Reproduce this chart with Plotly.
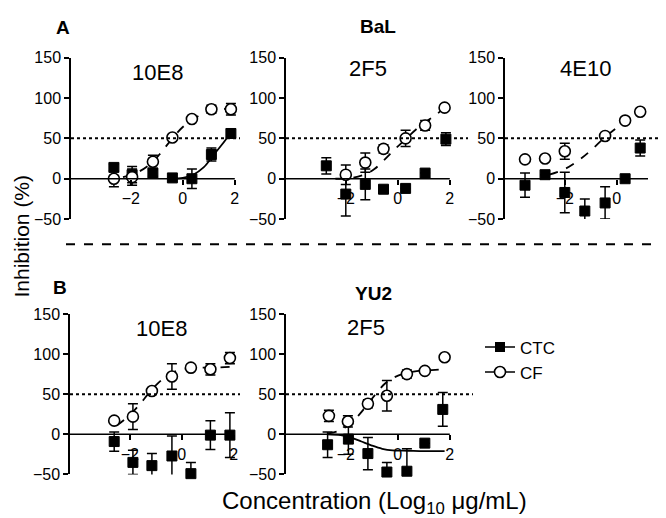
import plotly.graph_objects as go

W, H = 666, 518

# ---------------- data ----------------
# A / BaL / 10E8
bal_10e8_x = [-2.65, -1.95, -1.15, -0.4, 0.35, 1.1, 1.85]
bal_10e8_cf = [0, 2, 21, 51, 74, 86, 86]
bal_10e8_cf_err = [10, 10, 8, 0, 0, 5, 7]
bal_10e8_ctc = [14, 5, 7, 1, 0, 30, 56]
bal_10e8_ctc_err = [4, 10, 4, 0, 12, 8, 6]
bal_10e8_cf_fit_x = [-2.3, -1.8, -1.3, -0.9, -0.5, 0, 0.5, 1.0, 1.5, 1.85]
bal_10e8_cf_fit_y = [2, 7, 17, 30, 46, 64, 76, 83, 86, 87]
bal_10e8_ctc_fit_x = [-0.4, 0, 0.4, 0.8, 1.2, 1.5, 1.85]
bal_10e8_ctc_fit_y = [0, 1, 5, 14, 30, 42, 57]

# A / BaL / 2F5
bal_2f5_cf_x = [-2.0, -1.25, -0.55, 0.3, 1.05, 1.8]
bal_2f5_cf = [5, 20, 37, 50, 66, 88]
bal_2f5_cf_err = [12, 12, 5, 10, 6, 0]
bal_2f5_ctc_x = [-2.75, -2.0, -1.25, -0.55, 0.3, 1.05, 1.85]
bal_2f5_ctc = [16, -19, -7, -13, -12, 7, 49]
bal_2f5_ctc_err = [10, 27, 19, 0, 0, 0, 8]
bal_2f5_cf_fit_x = [-2.4, -1.8, -1.3, -0.9, -0.5, -0.1, 0.3, 0.7, 1.1, 1.5, 1.8]
bal_2f5_cf_fit_y = [0, 1, 5, 12, 24, 37, 49, 61, 71, 80, 88]

# A / BaL / 4E10
bal_4e10_cf_x = [-3.53, -2.76, -2.0, -0.45, 0.32, 0.9]
bal_4e10_cf = [24, 25, 34, 53, 72, 83]
bal_4e10_cf_err = [0, 0, 10, 0, 0, 0]
bal_4e10_ctc_x = [-3.53, -2.76, -2.0, -1.23, -0.45, 0.32, 0.9]
bal_4e10_ctc = [-8, 5, -17, -40, -30, 0, 38]
bal_4e10_ctc_err = [15, 0, 25, 15, 20, 0, 10]
bal_4e10_cf_fit_x = [-2.6, -2.0, -1.5, -1.0, -0.5, 0, 0.5, 0.9]
bal_4e10_cf_fit_y = [5, 12, 22, 35, 50, 63, 74, 80]

# B / YU2 / 10E8
yu2_10e8_x = [-2.6, -1.88, -1.15, -0.38, 0.35, 1.1, 1.85]
yu2_10e8_cf = [17, 22, 54, 72, 83, 81, 95]
yu2_10e8_cf_err = [0, 16, 0, 16, 3, 7, 7]
yu2_10e8_ctc = [-9, -35, -39, -27, -49, -1, -1]
yu2_10e8_ctc_err = [12, 15, 15, 25, 14, 18, 28]
yu2_10e8_cf_fit_x = [-2.5, -2.0, -1.6, -1.3, -1.0, -0.6, -0.2, 0.3, 0.8, 1.3, 1.85]
yu2_10e8_cf_fit_y = [11, 24, 38, 50, 61, 72, 79, 82, 83, 83, 84]

# B / YU2 / 2F5
yu2_2f5_cf_x = [-2.65, -1.92, -1.15, -0.42, 0.35, 1.04, 1.8]
yu2_2f5_cf = [23, 16, 38, 48, 75, 79, 96]
yu2_2f5_cf_err = [7, 7, 5, 19, 5, 0, 0]
yu2_2f5_ctc_x = [-2.7, -1.9, -1.15, -0.42, 0.35, 1.04, 1.73]
yu2_2f5_ctc = [-13, -6, -24, -47, -46, -11, 31]
yu2_2f5_ctc_err = [16, 19, 20, 12, 28, 0, 21]
yu2_2f5_cf_fit_x = [-2.7, -2.2, -1.9, -1.5, -1.15, -0.8, -0.5, -0.2, 0.3, 0.8, 1.3, 1.8]
yu2_2f5_cf_fit_y = [1, 5, 12, 24, 38, 52, 63, 70, 76, 79, 80, 81]
yu2_2f5_ctc_fit_x = [-2.7, -2.2, -1.8, -1.4, -1.0, -0.6, -0.2, 0.4, 1.0, 1.8]
yu2_2f5_ctc_fit_y = [0, -1, -4, -9, -14, -18, -20, -20.5, -21, -21]

x_ticks = [-2, 0, 2]
y_ticks = [-50, 0, 50, 100, 150]

FONT = "Liberation Sans, Arial, sans-serif"


def fx(px):
    return px / W


def fy(py):
    return 1 - py / H


# panels: (axis id, y-axis px, y top px(150), y bottom px(-50), x range, axis end value)
panels = [
    ("", 63, 43, 210, [-4.3, 2.75], 2),
    ("2", 278, 43, 210, [-4.3, 2.75], 2),
    ("3", 497, 43, 210, [-4.3, 1.7], 1.2),
    ("4", 62, 308, 474, [-4.3, 2.75], 2),
    ("5", 278, 308, 474, [-4.3, 2.75], 2),
]

fig = go.Figure()
layout = {}
shapes = []
for aid, ax_px, top_px, bot_px, xr, xend in panels:
    unit = 26.0
    right_px = ax_px + (xr[1] - xr[0]) * unit
    zero_py = top_px + (bot_px - top_px) * 150 / 200
    layout["xaxis" + aid] = dict(
        domain=[fx(ax_px), fx(right_px)], range=xr, anchor="free",
        position=fy(zero_py), showline=False, showgrid=False, zeroline=False,
        tickvals=x_ticks, ticks="outside", ticklen=5, tickwidth=1.5,
        tickcolor="black", tickfont=dict(size=16, family=FONT, color="black"),
    )
    layout["yaxis" + aid] = dict(
        domain=[fy(bot_px), fy(top_px)], range=[-50, 150], anchor="x" + aid,
        showline=True, linecolor="black", linewidth=1.5, showgrid=False,
        zeroline=False, tickvals=y_ticks, ticks="outside", ticklen=5,
        tickwidth=1.5, tickcolor="black",
        tickfont=dict(size=16, family=FONT, color="black"),
    )
    # x axis line at y = 0
    shapes.append(dict(type="line", xref="x" + aid, yref="y" + aid,
                       x0=xr[0], x1=xend, y0=0, y1=0,
                       line=dict(color="black", width=1.5)))

# dotted 50% lines
dots = [("", 63, 232), ("2", 278, 460), ("3", 497, 665), ("4", 62, 232), ("5", 278, 465)]
for aid, a, b in dots:
    shapes.append(dict(type="line", xref="paper", yref="y" + aid, x0=fx(a), x1=fx(b),
                       y0=50, y1=50, line=dict(color="black", width=2, dash="dot")))

# dashed separator
shapes.append(dict(type="line", xref="paper", yref="paper", x0=fx(58), x1=fx(664),
                   y0=fy(236), y1=fy(236),
                   line=dict(color="black", width=2, dash="dash")))


def fit(x, y, aid, dash):
    fig.add_trace(go.Scatter(x=x, y=y, mode="lines", line_shape="spline",
                             line=dict(color="black", width=1.8, dash=dash),
                             xaxis="x" + aid, yaxis="y" + aid, showlegend=False,
                             hoverinfo="skip"))


def pts(x, y, err, aid, kind):
    if kind == "ctc":
        marker = dict(symbol="square", size=10, color="black",
                      line=dict(color="black", width=1))
    else:
        marker = dict(symbol="circle", size=11, color="white",
                      line=dict(color="black", width=1.6))
    fig.add_trace(go.Scatter(x=x, y=y, mode="markers", marker=marker,
                             error_y=dict(type="data", array=err, color="black",
                                          thickness=1.5, width=5),
                             xaxis="x" + aid, yaxis="y" + aid, showlegend=False,
                             cliponaxis=False))


fit(bal_10e8_cf_fit_x, bal_10e8_cf_fit_y, "", "dash")
fit(bal_10e8_ctc_fit_x, bal_10e8_ctc_fit_y, "", "solid")
pts(bal_10e8_x, bal_10e8_ctc, bal_10e8_ctc_err, "", "ctc")
pts(bal_10e8_x, bal_10e8_cf, bal_10e8_cf_err, "", "cf")

fit(bal_2f5_cf_fit_x, bal_2f5_cf_fit_y, "2", "dash")
pts(bal_2f5_ctc_x, bal_2f5_ctc, bal_2f5_ctc_err, "2", "ctc")
pts(bal_2f5_cf_x, bal_2f5_cf, bal_2f5_cf_err, "2", "cf")

fit(bal_4e10_cf_fit_x, bal_4e10_cf_fit_y, "3", "dash")
pts(bal_4e10_ctc_x, bal_4e10_ctc, bal_4e10_ctc_err, "3", "ctc")
pts(bal_4e10_cf_x, bal_4e10_cf, bal_4e10_cf_err, "3", "cf")

fit(yu2_10e8_cf_fit_x, yu2_10e8_cf_fit_y, "4", "dash")
pts(yu2_10e8_x, yu2_10e8_ctc, yu2_10e8_ctc_err, "4", "ctc")
pts(yu2_10e8_x, yu2_10e8_cf, yu2_10e8_cf_err, "4", "cf")

fit(yu2_2f5_cf_fit_x, yu2_2f5_cf_fit_y, "5", "dash")
fit(yu2_2f5_ctc_fit_x, yu2_2f5_ctc_fit_y, "5", "solid")
pts(yu2_2f5_ctc_x, yu2_2f5_ctc, yu2_2f5_ctc_err, "5", "ctc")
pts(yu2_2f5_cf_x, yu2_2f5_cf, yu2_2f5_cf_err, "5", "cf")

# legend entries
fig.add_trace(go.Scatter(x=[None], y=[None], mode="lines+markers", name="CTC",
                         marker=dict(symbol="square", size=10, color="black"),
                         line=dict(color="black", width=1.5)))
fig.add_trace(go.Scatter(x=[None], y=[None], mode="lines+markers", name="CF",
                         marker=dict(symbol="circle", size=11, color="white",
                                     line=dict(color="black", width=1.6)),
                         line=dict(color="black", width=1.5)))


def txt(s, px, py, size, bold=False, angle=0):
    return dict(text="<b>%s</b>" % s if bold else s, x=fx(px), y=fy(py),
                xref="paper", yref="paper", showarrow=False, textangle=angle,
                xanchor="center", yanchor="middle",
                font=dict(size=size, family=FONT, color="black"))


annotations = [
    txt("A", 55, 12, 19, True),
    txt("BaL", 370, 11, 19, True),
    txt("B", 52, 281, 19, True),
    txt("YU2", 365, 287, 19, True),
    txt("10E8", 149, 58, 22),
    txt("2F5", 360, 54, 22),
    txt("4E10", 577, 54, 22),
    txt("10E8", 153, 323, 22),
    txt("2F5", 358, 322, 22),
    txt("Inhibition (%)", 14, 228, 21, angle=-90),
    txt("Concentration (Log<sub>10</sub> μg/mL)", 366, 503, 24),
]

fig.update_layout(
    width=W, height=H, margin=dict(l=0, r=0, t=0, b=0),
    paper_bgcolor="white", plot_bgcolor="white",
    shapes=shapes, annotations=annotations,
    legend=dict(x=fx(472), y=fy(324), xanchor="left", yanchor="top",
                font=dict(size=17, family=FONT, color="black"),
                bgcolor="rgba(0,0,0,0)", tracegroupgap=0, itemwidth=30),
    **layout,
)

fig.write_html("out.html")
